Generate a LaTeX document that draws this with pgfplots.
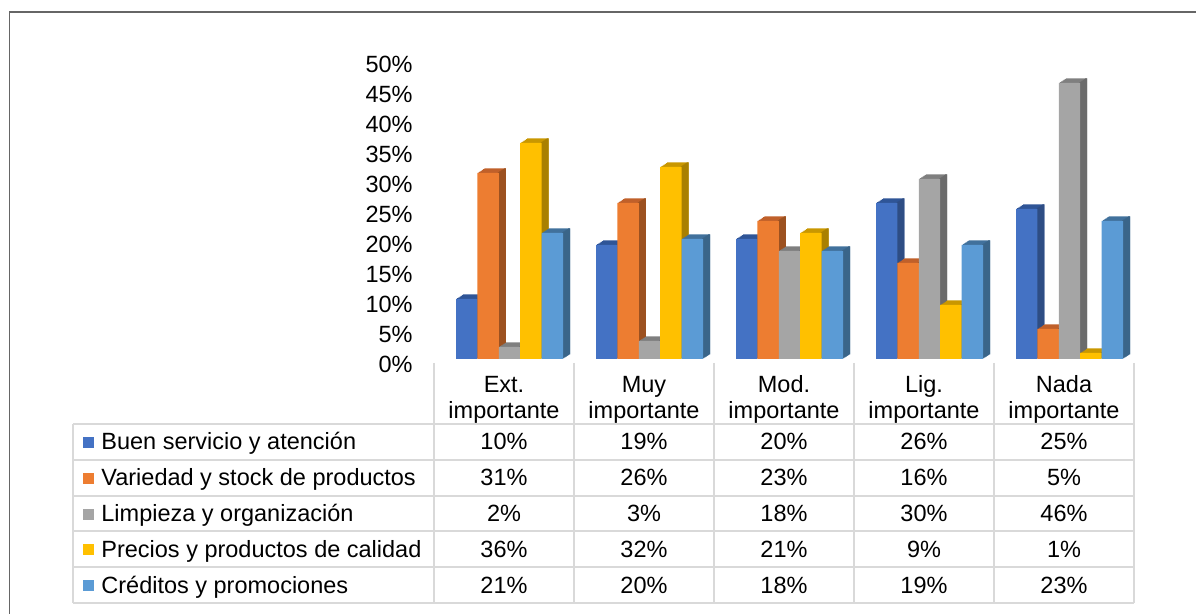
\documentclass[border=0pt]{standalone}
\usepackage{pgfplots}
\usepackage{pgfplotstable}
\pgfplotsset{compat=1.18}
\usepackage{fontspec}
\setmainfont{Liberation Sans}

% one row per importance level, one column per factor (percent)
\pgfplotstableread{
cat a  b  c  d  e
0   10 31 2  36 21
1   19 26 3  32 20
2   20 23 18 21 18
3   26 16 30 9  19
4   25 5  46 1  23
}\data

\definecolor{bluF}{HTML}{4472C4}\definecolor{bluT}{HTML}{2F5597}\definecolor{bluS}{HTML}{2E4D84}
\definecolor{oraF}{HTML}{ED7D31}\definecolor{oraT}{HTML}{C0602A}\definecolor{oraS}{HTML}{9C5120}
\definecolor{graF}{HTML}{A5A5A5}\definecolor{graT}{HTML}{7F7F7F}\definecolor{graS}{HTML}{6B6B6B}
\definecolor{golF}{HTML}{FFC000}\definecolor{golT}{HTML}{C99700}\definecolor{golS}{HTML}{A98000}
\definecolor{lbuF}{HTML}{5B9BD5}\definecolor{lbuT}{HTML}{41719C}\definecolor{lbuS}{HTML}{3A6589}
\definecolor{gridc}{HTML}{D9D9D9}

% pseudo-3D column: top face, side face, then front face
% #1 column, #2 front, #3 top, #4 side, #5 front shift, #6 side-strip shift
\newcommand{\threedbar}[6]{%
  \pgfplotsinvokeforeach{1,2,3,4,5,6}{%
    \addplot[ybar, bar width=10.7pt, bar shift=#5pt, fill=#3, draw=none,
      xshift={##1*0.5833pt}, yshift={##1*0.375pt}] table[x=cat,y=#1]{\data};
  }%
  \pgfplotsinvokeforeach{1,2,3,4,5,6}{%
    \addplot[ybar, bar width=1pt, bar shift=#6pt, fill=#4, draw=none,
      xshift={##1*0.5833pt}, yshift={##1*0.375pt}] table[x=cat,y=#1]{\data};
  }%
  \addplot[ybar, bar width=10.7pt, bar shift=#5pt, fill=#2, draw=none] table[x=cat,y=#1]{\data};
}

\begin{document}
\begin{tikzpicture}[x=0.5pt, y=0.5pt, font=\fontsize{11.75}{14}\selectfont]
\useasboundingbox (0,0) rectangle (1196,614);
\draw[color=black!60, line width=0.8pt] (9.5,0) -- (9.5,602) -- (1196,602);
\coordinate (plotorigin) at (434,255);

\begin{axis}[
  at={(plotorigin)}, anchor=south west,
  x=70pt, y=3pt,
  xmin=-0.5, xmax=4.5, ymin=0, ymax=50,
  clip=false,
  axis line style={draw=none},
  major tick length=0pt,
  xtick=\empty,
  ytick={0,5,...,50},
  yticklabels={0\%,5\%,10\%,15\%,20\%,25\%,30\%,35\%,40\%,45\%,50\%},
  yticklabel style={anchor=east, inner sep=0pt, xshift=-10.5pt, yshift=-2.5pt,
    font=\fontsize{11.75}{14}\selectfont},
]
\threedbar{a}{bluF}{bluT}{bluS}{-18.65}{-13.8}
\threedbar{b}{oraF}{oraT}{oraS}{-7.95}{-3.1}
\threedbar{c}{graF}{graT}{graS}{2.75}{7.6}
\threedbar{d}{golF}{golT}{golS}{13.45}{18.3}
\threedbar{e}{lbuF}{lbuT}{lbuS}{24.15}{29.0}
\end{axis}

% data table under the plot
\begin{scope}[gridc, line width=1pt]
  \foreach \yy in {190,154.2,118.4,82.6,46.8,11}
    \draw (73,\yy) -- (1134,\yy);
  \foreach \xx in {434,574,714,854,994,1134}
    \draw (\xx,251) -- (\xx,11);
  \draw (73,190) -- (73,11);
\end{scope}

\foreach \hd [count=\ci from 0] in {Ext.,Muy,Mod.,Lig.,Nada}{
  \node[anchor=base, inner sep=0pt] at ({504+140*\ci},221) {\hd};
  \node[anchor=base, inner sep=0pt] at ({504+140*\ci},195) {importante};
}

\foreach \nm/\fc [count=\si from 0] in {Buen servicio y atención/bluF,
    Variedad y stock de productos/oraF,
    Limpieza y organización/graF,
    Precios y productos de calidad/golF,
    Créditos y promociones/lbuF}{
  \fill[\fc] (83,{166-35.8*\si}) rectangle (94,{177-35.8*\si});
  \node[anchor=base west, inner sep=0pt] at (101,{164-35.8*\si}) {\nm};
}

\foreach \ci in {0,...,4}{
  \foreach \si/\col in {0/a,1/b,2/c,3/d,4/e}{
    \pgfplotstablegetelem{\ci}{\col}\of\data
    \node[anchor=base, inner sep=0pt] at ({504+140*\ci},{164-35.8*\si}) {\pgfplotsretval\%};
  }
}
\end{tikzpicture}
\end{document}
